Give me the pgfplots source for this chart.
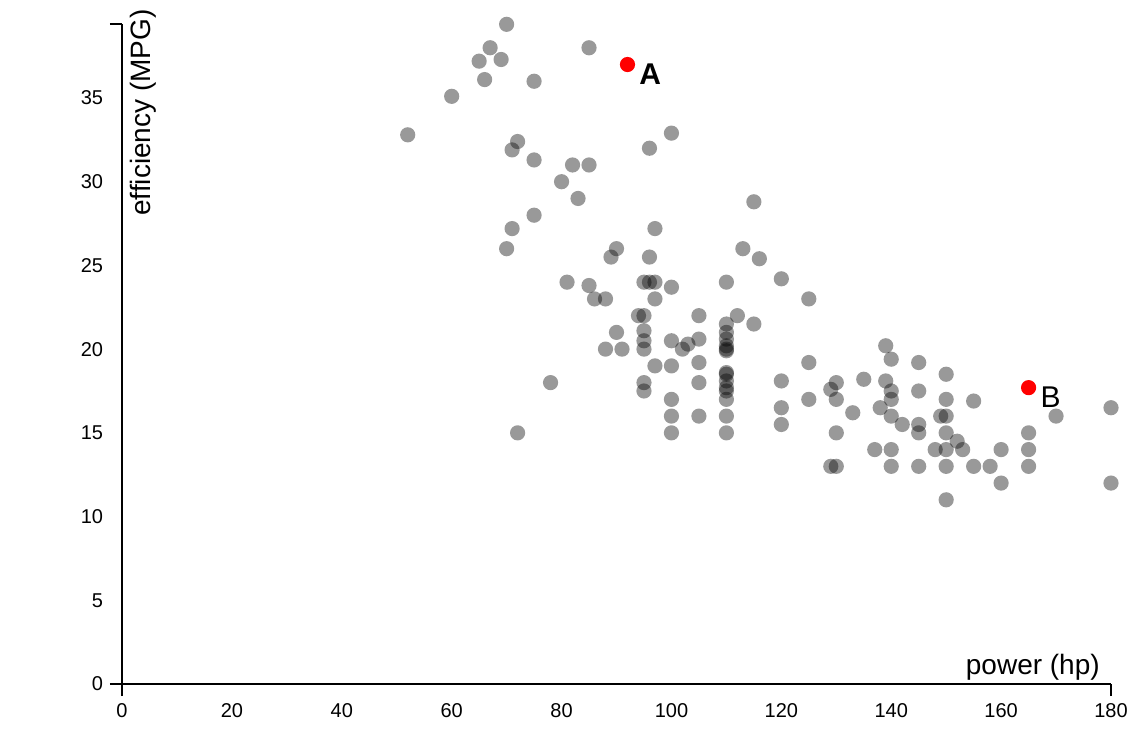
\documentclass[border=0pt]{standalone}
\usepackage{fontspec}
\setmainfont{Liberation Sans}
\usepackage{pgfplots}
\pgfplotsset{compat=1.18}
\begin{document}
\begin{tikzpicture}
\path[use as bounding box] (-91.5pt,-40.5pt) rectangle (759pt,513pt);
\begin{axis}[
  at={(0,0)}, anchor=south west,
  scale only axis, width=741.75pt, height=495pt,
  xmin=0, xmax=180, ymin=0, ymax=39.42,
  axis lines=left,
  axis line style={-, line width=1.5pt, black},
  xtick={0,20,...,180}, ytick={0,5,...,35},
  major tick length=0pt,
  extra x ticks={0,180}, extra x tick labels={},
  extra y ticks={0,39.42}, extra y tick labels={},
  extra tick style={major tick length=9pt, tick align=outside},
  tick align=outside,
  every tick/.style={black, line width=1.5pt},
  /pgf/number format/assume math mode=true,
  ticklabel style={font=\fontsize{15pt}{18pt}\selectfont, inner sep=0pt},
  xticklabel style={yshift=-14.5pt},
  yticklabel style={xshift=-14pt},
  clip=false,
]
\addplot[only marks, draw=none, mark=*, mark size=5.7pt,
  mark options={draw=none, draw opacity=0, line width=0pt, fill=black, fill opacity=0.4}] coordinates {
(70,39.4) (67,38) (65,37.2) (69,37.3) (66,36.1) (75,36) (60,35.1) (85,38)
(52,32.8) (72,32.4) (71,31.9) (75,31.3) (82,31) (85,31) (80,30) (83,29)
(75,28) (71,27.2) (70,26) (90,26) (89,25.5) (100,32.9) (96,32) (115,28.8)
(97,27.2) (96,25.5) (113,26) (116,25.4)
(81,24) (85,23.8) (86,23) (88,23) (95,24) (96,24) (97,24) (100,23.7)
(97,23) (110,24) (120,24.2) (125,23) (94,22) (95,22) (105,22) (112,22)
(115,21.5) (90,21) (88,20) (91,20) (95,21.1) (95,20.5) (95,20) (100,20.5)
(102,20) (103,20.3) (105,20.6) (105,19.2) (105,18) (97,19) (100,19)
(95,18) (95,17.5) (78,18) (100,17) (100,16) (105,16) (110,16) (100,15)
(110,15) (72,15)
(110,21.5) (110,21) (110,20.6) (110,20.2) (110,20) (110,19.9) (110,18.6)
(110,18.5) (110,18.1) (110,17.7) (110,17.5) (110,17)
(120,18.1) (120,16.5) (120,15.5) (125,19.2) (125,17) (129,17.6) (130,18)
(130,17) (130,15) (129,13) (130,13) (133,16.2) (135,18.2) (137,14)
(139,20.2) (140,19.4) (145,19.2) (150,18.5) (139,18.1) (140,17.5) (140,17)
(145,17.5) (150,17) (155,16.9) (180,16.5) (170,16) (138,16.5) (140,16)
(142,15.5) (145,15.5) (145,15) (149,16) (150,16) (150,15) (152,14.5)
(153,14) (148,14) (150,14) (140,14) (160,14) (165,15) (165,14) (165,13)
(140,13) (145,13) (150,13) (155,13) (158,13) (160,12) (180,12) (150,11)
};
\addplot[only marks, draw=none, mark=*, mark size=5.7pt,
  mark options={draw=none, draw opacity=0, line width=0pt, fill=red},
  point meta=explicit symbolic, nodes near coords,
  nodes near coords style={anchor=base west, inner sep=0pt, xshift=9pt, yshift=-15pt,
    font=\fontsize{22.5pt}{26pt}\selectfont, text=black}] coordinates {
(92,37) [\textbf{A}]
(165,17.7) [B]
};
\node[rotate=90, anchor=north east, inner sep=0pt, font=\fontsize{21pt}{25pt}\selectfont]
  at (rel axis cs:0,1) [xshift=11.25pt, yshift=-6pt] {efficiency (MPG)};
\node[anchor=base east, inner sep=0pt, font=\fontsize{21pt}{25pt}\selectfont]
  at (rel axis cs:1,0) [xshift=-8.25pt, yshift=7.5pt] {power (hp)};
\end{axis}
\end{tikzpicture}
\end{document}
